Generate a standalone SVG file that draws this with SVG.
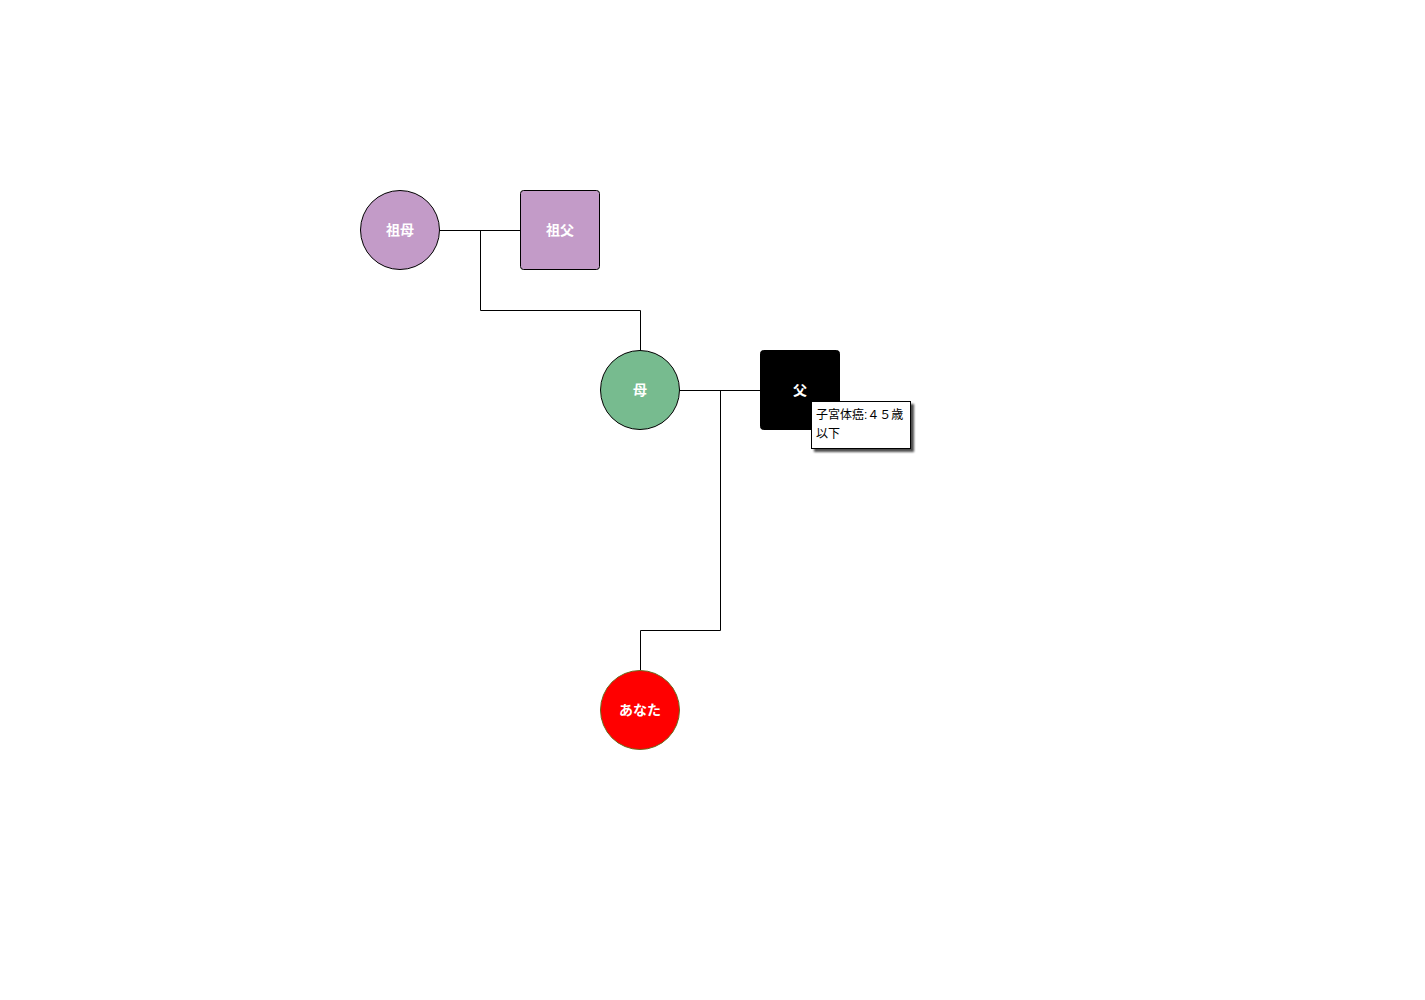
<svg xmlns="http://www.w3.org/2000/svg" width="1425" height="1000" viewBox="0 0 1425 1000">
<defs>
<filter id="sh" x="-20%" y="-20%" width="150%" height="150%">
<feGaussianBlur in="SourceAlpha" stdDeviation="1"/>
<feOffset dx="3" dy="3" result="o"/>
<feComponentTransfer><feFuncA type="linear" slope="0.7"/></feComponentTransfer>
<feMerge><feMergeNode/><feMergeNode in="SourceGraphic"/></feMerge>
</filter>
</defs>
<style>
.lbl{font-family:"Liberation Sans","Noto Sans CJK JP",sans-serif;font-size:14px;fill:#ffffff;font-weight:bold;text-anchor:middle;dominant-baseline:central}
.note{font-family:"Liberation Sans","Noto Sans CJK JP",sans-serif;font-size:12px;fill:#000000}
.edge{fill:none;stroke:#000000;stroke-width:1}
</style>
<rect width="1425" height="1000" fill="#ffffff"/>
<g id="connectors">
<path class="edge" d="M440,230.5H520"/>
<path class="edge" d="M480.5,230.5V310.5H640.5V350"/>
<path class="edge" d="M680,390.5H760"/>
<path class="edge" d="M720.5,390.5V630.5H640.5V670"/>
</g>
<g id="grandmother">
<circle cx="400" cy="230" r="39.5" fill="#C39BC8" stroke="#000000"/>
<text class="lbl" x="400" y="230">祖母</text>
</g>
<g id="grandfather">
<rect x="520.5" y="190.5" width="79" height="79" rx="3" fill="#C39BC8" stroke="#000000"/>
<text class="lbl" x="560" y="230">祖父</text>
</g>
<g id="mother">
<circle cx="640" cy="390" r="39.5" fill="#77BB8F" stroke="#000000"/>
<text class="lbl" x="640" y="390">母</text>
</g>
<g id="father">
<rect x="760.5" y="350.5" width="79" height="79" rx="3" fill="#000000" stroke="#000000"/>
<text class="lbl" x="800" y="390">父</text>
</g>
<g id="note">
<rect x="811.5" y="401.5" width="99" height="47" fill="#ffffff" stroke="#000000" filter="url(#sh)"/>
<text class="note" x="816" y="419">子宮体癌:４５歳</text>
<text class="note" x="816" y="438">以下</text>
</g>
<g id="you">
<circle cx="640" cy="710" r="39.5" fill="#FF0000" stroke="#6B6B1E"/>
<text class="lbl" x="640" y="710">あなた</text>
</g>
</svg>
